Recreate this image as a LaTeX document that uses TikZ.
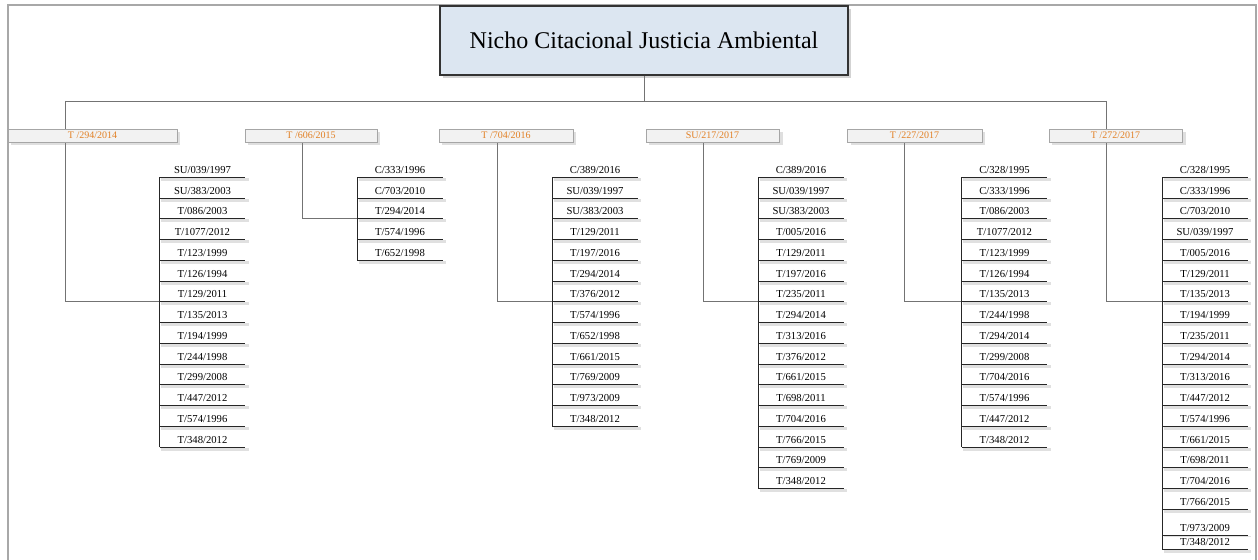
\documentclass[tikz,border=0pt]{standalone}
\usepackage{fontspec}
\setmainfont{Liberation Serif}
\usetikzlibrary{shadows,backgrounds}
\definecolor{nichofill}{RGB}{220,230,241}
\definecolor{cabfill}{RGB}{242,242,242}
\definecolor{cabtext}{RGB}{226,128,36}
\definecolor{marco}{RGB}{168,168,168}
\tikzset{
  titulo/.style={draw=black!80, line width=1.4pt, fill=nichofill, minimum width=306pt, minimum height=51.75pt,
    font=\fontsize{18}{20}\selectfont, drop shadow={shadow xshift=2pt, shadow yshift=-2pt, opacity=.35}},
  cabecera/.style={draw=black!35, fill=cabfill, text=cabtext, minimum height=9.75pt, inner sep=0pt,
    font=\fontsize{7.5}{8}\selectfont, drop shadow={shadow xshift=2.5pt, shadow yshift=-2.5pt, opacity=.25}},
  cita/.style={minimum width=63.75pt, minimum height=10.5pt, inner sep=0pt, font=\fontsize{8}{9}\selectfont},
  raya/.style={black!85, line width=.7pt},
  sombra/.style={black!12, line width=2.2pt},
  enlace/.style={black!55, line width=.6pt}
}
\begin{document}
\begin{tikzpicture}[x=.75pt, y=-.75pt]
% \draw[help lines, gray] (0,0) grid[step=50] (1258,560);
\useasboundingbox (0,0) rectangle (1258,560);
\draw[marco, line width=1.5pt] (8,580) -- (8,5) -- (1256,5) -- (1256,580);
\node[titulo] (nicho) at (644,40.5) {Nicho Citacional Justicia Ambiental};
\coordinate (busI) at (65,101); \coordinate (busD) at (1106,101);
\draw[enlace] (nicho.south) -- (nicho.south |- busI);
\draw[enlace] (busI) -- (busD);
\node[cabecera, minimum width=126.75pt] (t294) at (92.5,135.5) {T /294/2014};
\node[cabecera, minimum width=99pt] (t606) at (311,135.5) {T /606/2015};
\node[cabecera, minimum width=100.5pt] (t704) at (506,135.5) {T /704/2016};
\node[cabecera, minimum width=100pt] (su217) at (712.5,135.5) {SU/217/2017};
\node[cabecera, minimum width=101pt] (t227) at (914.5,135.5) {T /227/2017};
\node[cabecera, minimum width=100pt] (t272) at (1115.5,135.5) {T /272/2017};
\foreach \t [count=\i from 0] in {SU/039/1997,SU/383/2003,T/086/2003,T/1077/2012,T/123/1999,T/126/1994,T/129/2011,
  T/135/2013,T/194/1999,T/244/1998,T/299/2008,T/447/2012,T/574/1996,T/348/2012}{
  \node[cita] (a-\i) at (202.5,170+20.75*\i) {\t};
  \draw[sombra] ([shift={(1pt,-1.6pt)}]a-\i.south west) -- ([shift={(2.5pt,-1.6pt)}]a-\i.south east);
  \draw[raya] (a-\i.south west) -- (a-\i.south east);
}
\draw[raya] (a-0.south west) -- (a-13.south west);
\foreach \t [count=\i from 0] in {C/333/1996,C/703/2010,T/294/2014,T/574/1996,T/652/1998}{
  \node[cita] (b-\i) at (400,170+20.75*\i) {\t};
  \draw[sombra] ([shift={(1pt,-1.6pt)}]b-\i.south west) -- ([shift={(2.5pt,-1.6pt)}]b-\i.south east);
  \draw[raya] (b-\i.south west) -- (b-\i.south east);
}
\draw[raya] (b-0.south west) -- (b-4.south west);
\foreach \t [count=\i from 0] in {C/389/2016,SU/039/1997,SU/383/2003,T/129/2011,T/197/2016,T/294/2014,T/376/2012,
  T/574/1996,T/652/1998,T/661/2015,T/769/2009,T/973/2009,T/348/2012}{
  \node[cita] (c-\i) at (595,170+20.75*\i) {\t};
  \draw[sombra] ([shift={(1pt,-1.6pt)}]c-\i.south west) -- ([shift={(2.5pt,-1.6pt)}]c-\i.south east);
  \draw[raya] (c-\i.south west) -- (c-\i.south east);
}
\draw[raya] (c-0.south west) -- (c-12.south west);
\foreach \t [count=\i from 0] in {C/389/2016,SU/039/1997,SU/383/2003,T/005/2016,T/129/2011,T/197/2016,T/235/2011,
  T/294/2014,T/313/2016,T/376/2012,T/661/2015,T/698/2011,T/704/2016,T/766/2015,T/769/2009,T/348/2012}{
  \node[cita] (d-\i) at (801,170+20.75*\i) {\t};
  \draw[sombra] ([shift={(1pt,-1.6pt)}]d-\i.south west) -- ([shift={(2.5pt,-1.6pt)}]d-\i.south east);
  \draw[raya] (d-\i.south west) -- (d-\i.south east);
}
\draw[raya] (d-0.south west) -- (d-15.south west);
\foreach \t [count=\i from 0] in {C/328/1995,C/333/1996,T/086/2003,T/1077/2012,T/123/1999,T/126/1994,T/135/2013,
  T/244/1998,T/294/2014,T/299/2008,T/704/2016,T/574/1996,T/447/2012,T/348/2012}{
  \node[cita] (e-\i) at (1004.5,170+20.75*\i) {\t};
  \draw[sombra] ([shift={(1pt,-1.6pt)}]e-\i.south west) -- ([shift={(2.5pt,-1.6pt)}]e-\i.south east);
  \draw[raya] (e-\i.south west) -- (e-\i.south east);
}
\draw[raya] (e-0.south west) -- (e-13.south west);
\foreach \t [count=\i from 0] in {C/328/1995,C/333/1996,C/703/2010,SU/039/1997,T/005/2016,T/129/2011,T/135/2013,
  T/194/1999,T/235/2011,T/294/2014,T/313/2016,T/447/2012,T/574/1996,T/661/2015,T/698/2011,T/704/2016,T/766/2015}{
  \node[cita] (f-\i) at (1205,170+20.75*\i) {\t};
  \draw[sombra] ([shift={(1pt,-1.6pt)}]f-\i.south west) -- ([shift={(2.5pt,-1.6pt)}]f-\i.south east);
  \draw[raya] (f-\i.south west) -- (f-\i.south east);
}
% las dos ultimas quedan apretadas
\node[cita] (f-17) at (1205,528) {T/973/2009};
\draw[sombra, line width=1.2pt] ([shift={(1pt,-1pt)}]f-17.south west) -- ([shift={(2.5pt,-1pt)}]f-17.south east);
\draw[raya] (f-17.south west) -- (f-17.south east);
\node[cita] (f-18) at (1205,542) {T/348/2012};
\draw[sombra] ([shift={(1pt,-1.6pt)}]f-18.south west) -- ([shift={(2.5pt,-1.6pt)}]f-18.south east);
\draw[raya] (f-18.south west) -- (f-18.south east);
\draw[raya] (f-0.south west) -- (f-18.south west);
\begin{scope}[on background layer]
\draw[enlace] (busI) |- (a-6.south west);
\draw[enlace] ([xshift=-6.75pt]t606.south) |- (b-2.south west);
\draw[enlace] ([xshift=-6.75pt]t704.south) |- (c-6.south west);
\draw[enlace] ([xshift=-7pt]su217.south) |- (d-6.south west);
\draw[enlace] ([xshift=-7.5pt]t227.south) |- (e-6.south west);
\draw[enlace] (busD) |- (f-6.south west);
\end{scope}
\end{tikzpicture}
\end{document}
